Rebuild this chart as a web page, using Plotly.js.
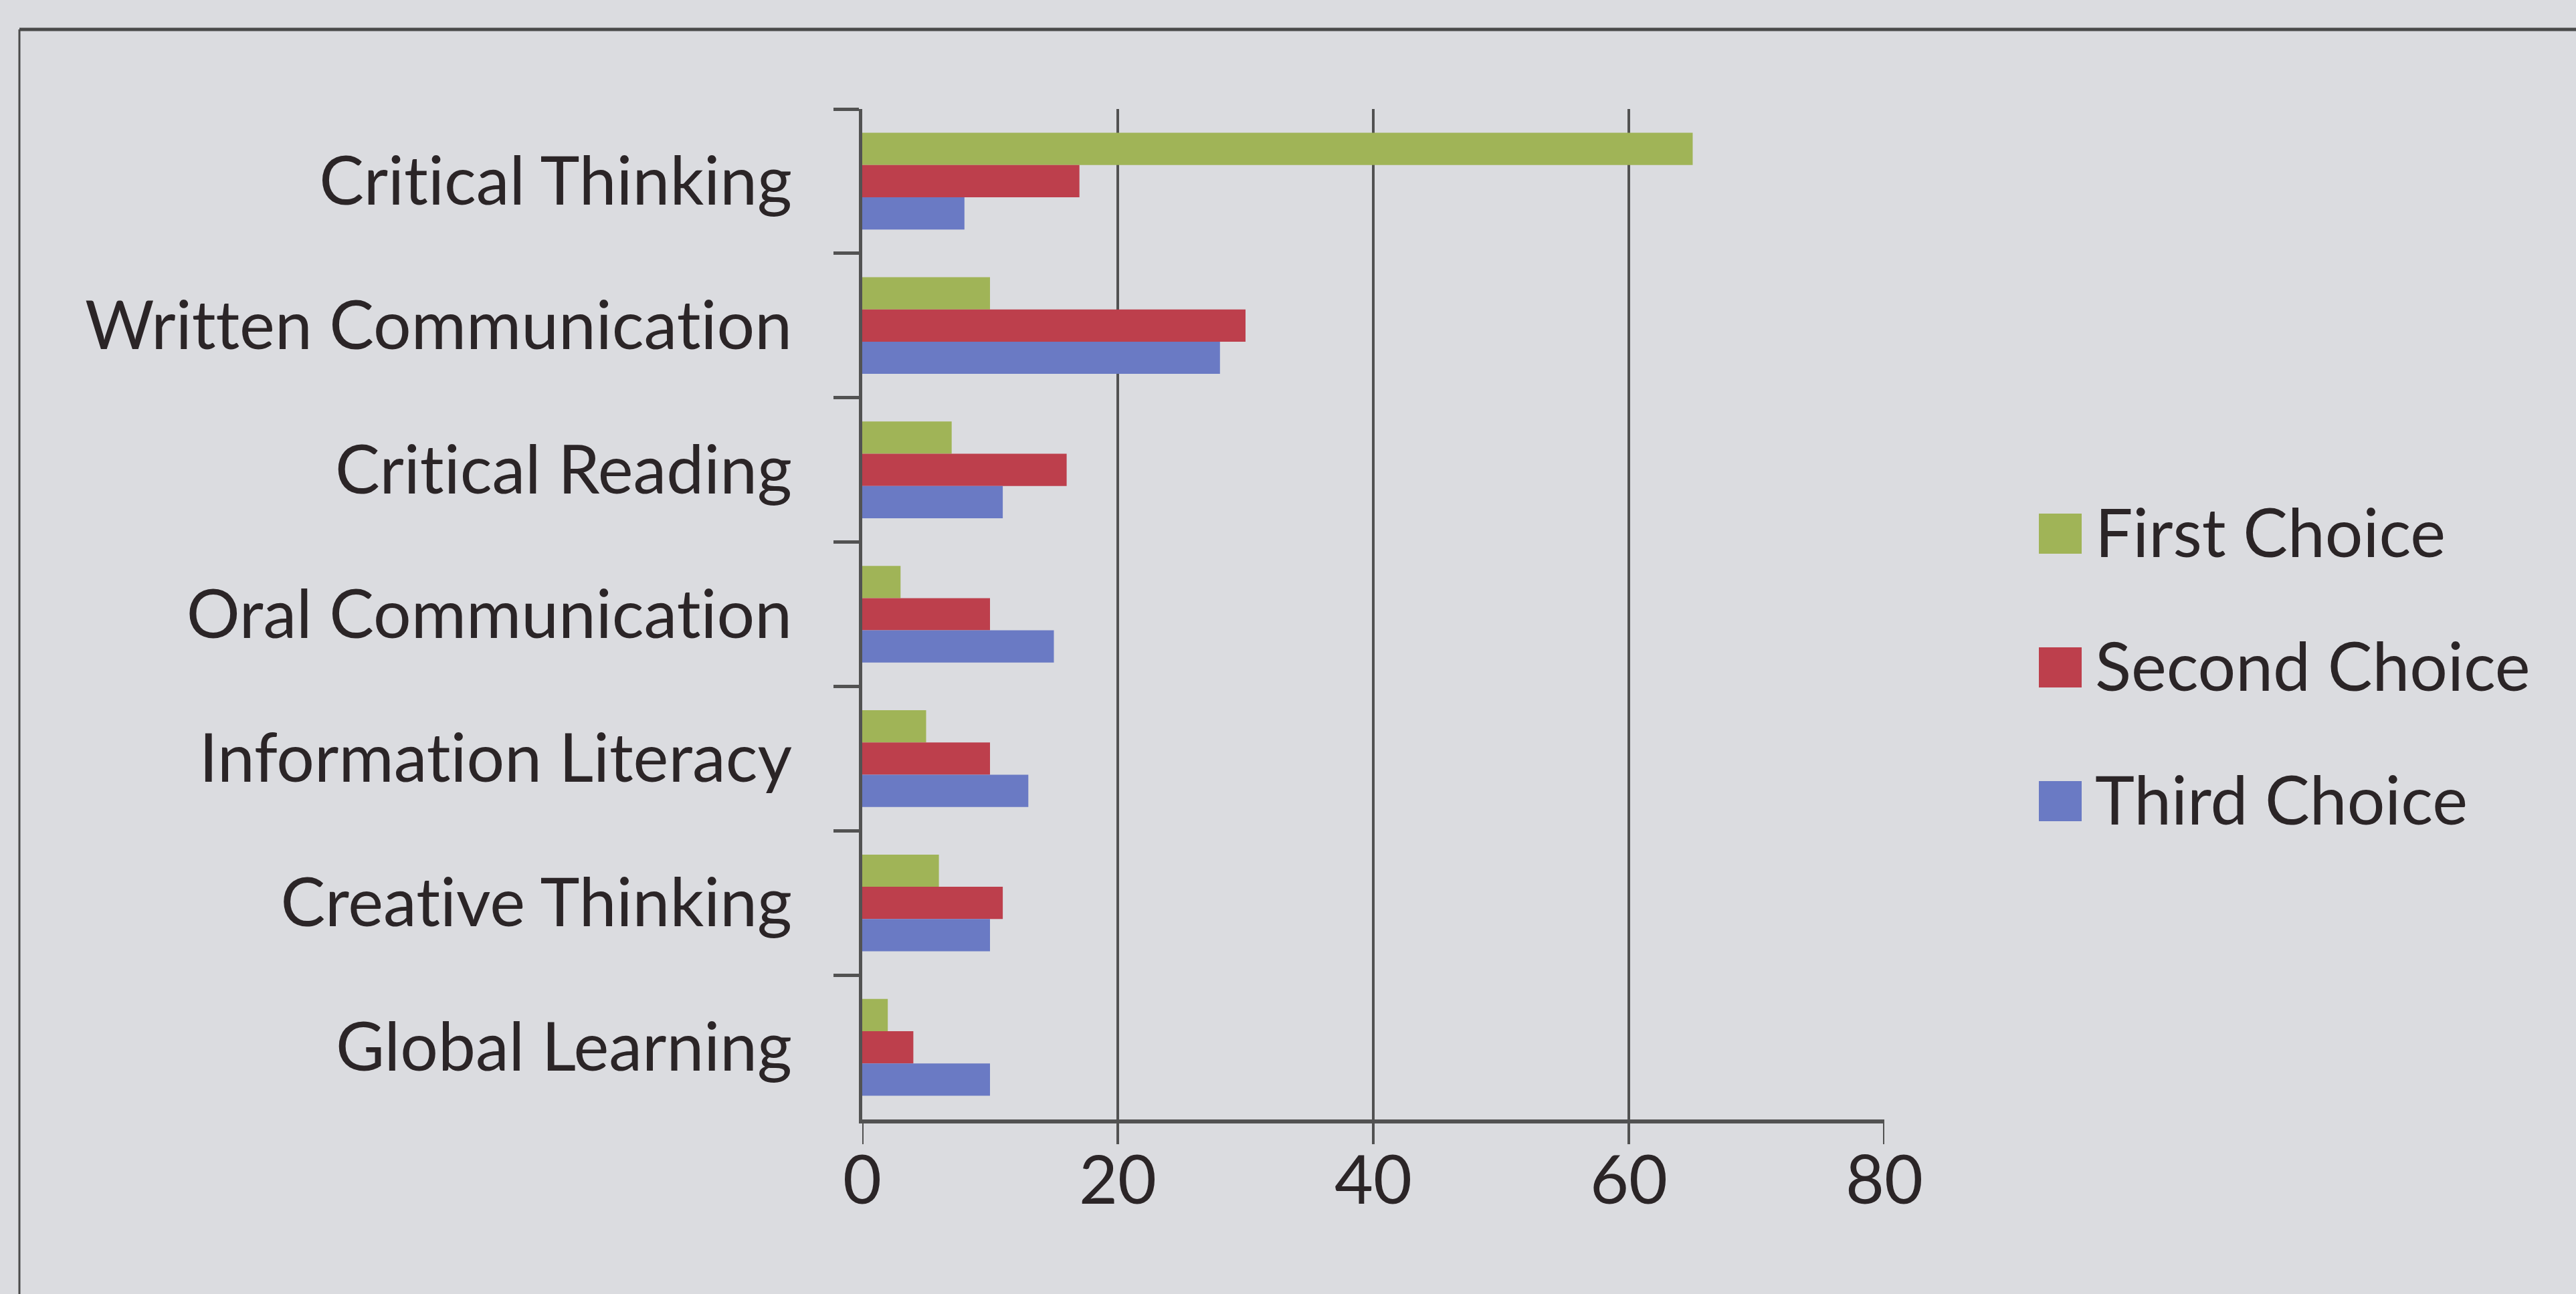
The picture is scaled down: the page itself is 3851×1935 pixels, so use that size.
<!DOCTYPE html>
<html>
<head>
<meta charset="utf-8">
<script src="https://cdn.plot.ly/plotly-3.0.1.min.js"></script>
<style>
  html, body { margin: 0; padding: 0; background: #dbdce0; }
  #chart { width: 3851px; height: 1935px; }
  svg text { font-variant-ligatures: none; font-feature-settings: "liga" 0, "clig" 0; }
</style>
</head>
<body>
<div id="chart"></div>
<script>
// ---- Data ----
const categories = [
  "Critical Thinking",
  "Written Communication",
  "Critical Reading",
  "Oral Communication",
  "Information Literacy",
  "Creative Thinking",
  "Global Learning"
];
const seriesNames = ["First Choice", "Second Choice", "Third Choice"];
const firstChoice  = [65, 10, 7, 3, 5, 6, 2];
const secondChoice = [17, 30, 16, 10, 10, 11, 4];
const thirdChoice  = [8, 28, 11, 15, 13, 10, 10];
const xTickVals = [0, 20, 40, 60, 80];

// ---- Style ----
const colors = ["#a0b457", "#bd3f4c", "#6a7ac4"];
const seriesValues = [firstChoice, secondChoice, thirdChoice];
const FONT = "Lato, 'Open Sans', sans-serif";
const TXT = "#2b2527";
const AX = "#525252";

// plot area in pixels
const W = 3851, H = 1935;
const L = 1289, R = W - 2817, T = 163, B = H - 1674;
const PW = W - L - R, PH = H - T - B;
const px2x = p => (p - L) / PW;
const py2y = p => (H - B - p) / PH;

const traces = seriesValues.map((vals, i) => ({
  type: "bar",
  orientation: "h",
  name: seriesNames[i],
  y: categories,
  x: vals,
  marker: { color: colors[i], line: { width: 0 } },
  showlegend: false,
  hoverinfo: "x+y+name"
}));

const shapes = [];
const annotations = [];

// x-axis tick marks (continuation of the gridlines below the axis)
xTickVals.forEach(v => {
  shapes.push({
    type: "line", xref: "x", yref: "paper",
    x0: v, x1: v, y0: 0, y1: -37 / PH,
    line: { color: AX, width: 4 }
  });
});

// custom legend (large swatches like the original)
const legendRowBase = 828;   // baseline of first row text
const legendRowStep = 200;
seriesNames.forEach((name, i) => {
  const base = legendRowBase + i * legendRowStep;
  shapes.push({
    type: "rect", xref: "paper", yref: "paper",
    x0: px2x(3048), x1: px2x(3112),
    y0: py2y(base), y1: py2y(base - 60),
    fillcolor: colors[i], line: { width: 0 }
  });
  annotations.push({
    xref: "paper", yref: "paper",
    x: px2x(3130), y: py2y(base - 34),
    xanchor: "left", yanchor: "middle",
    text: name, showarrow: false,
    font: { family: FONT, size: 100, color: TXT }
  });
});

// outer chart frame (top and left edges visible in scan)
shapes.push({
  type: "line", xref: "paper", yref: "paper",
  x0: px2x(29), x1: px2x(3851), y0: py2y(44), y1: py2y(44),
  line: { color: "#4a4a4a", width: 5 }
});
shapes.push({
  type: "line", xref: "paper", yref: "paper",
  x0: px2x(29), x1: px2x(29), y0: py2y(44), y1: py2y(1935),
  line: { color: "#4a4a4a", width: 3 }
});

const layout = {
  width: W, height: H,
  margin: { l: L, r: R, t: T, b: B, pad: 0 },
  paper_bgcolor: "#dbdce0",
  plot_bgcolor: "rgba(0,0,0,0)",
  barmode: "group",
  bargap: 0.33,
  bargroupgap: 0,
  showlegend: false,
  font: { family: FONT, size: 100, color: TXT },
  xaxis: {
    range: [0, 80],
    tickvals: xTickVals,
    ticktext: xTickVals.map(String),
    showgrid: true, gridcolor: AX, gridwidth: 4,
    zeroline: false,
    showline: true, linecolor: AX, linewidth: 6,
    ticks: "",
    tickfont: { family: FONT, size: 100, color: TXT },
    ticklabelstandoff: 0,
    fixedrange: true
  },
  yaxis: {
    type: "category",
    categoryorder: "array",
    categoryarray: categories,
    autorange: "reversed",
    showgrid: false, zeroline: false,
    showline: true, linecolor: AX, linewidth: 5,
    ticks: "outside", ticklen: 38, tickwidth: 5, tickcolor: AX,
    tickson: "boundaries",
    tickfont: { family: FONT, size: 100, color: TXT },
    ticklabelstandoff: 80,
    fixedrange: true
  },
  shapes: shapes,
  annotations: annotations
};

Plotly.newPlot("chart", traces, layout, { displayModeBar: false, staticPlot: true });
</script>
</body>
</html>
